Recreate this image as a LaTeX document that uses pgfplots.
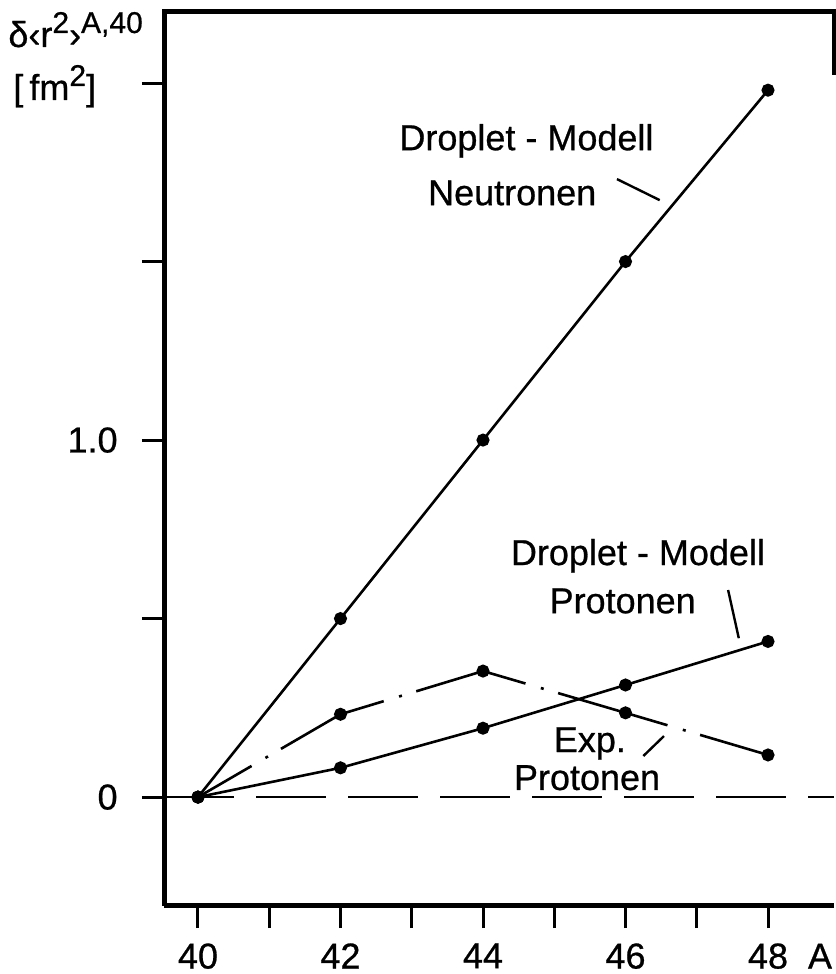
\documentclass[border=0pt]{standalone}
\usepackage{pgfplots}
\pgfplotsset{compat=1.18}
\usepackage{fontspec}
\setmainfont{Liberation Sans}[BoldFont={Liberation Sans}, BoldFeatures={FakeBold=0.7}]

\newcommand{\lab}{\fontsize{18}{27}\selectfont\bfseries}
\newcommand{\hochs}[1]{\raisebox{7pt}{\fontsize{15}{15}\selectfont #1}}

\begin{document}
\begin{tikzpicture}
\path[use as bounding box] (0,0) rectangle (417.5pt,487pt);

% axis title, set above the y axis
\node[anchor=base west, inner sep=0pt] at (4pt,463.5pt) {\lab δ‹r\hochs{2}›\hochs{A,40}};
\node[anchor=base west, inner sep=0pt] at (6.5pt,437pt) {\lab [\,fm\hochs{2}]};

\begin{axis}[
  at={(82pt,34pt)}, anchor=south west,
  scale only axis, width=335pt, height=447pt,
  xmin=39.523, xmax=48.926, ymin=-0.305, ymax=2.199,
  axis x line*=bottom, axis y line*=left,
  axis line style={-, line width=2.5pt, black},
  tick align=outside,
  major tick length=11pt, minor tick length=11pt,
  every tick/.style={line width=1.5pt, black},
  xtick={40,42,44,46,48},
  xticklabels={40,42,44,46,48\rlap{\hspace{10pt}A}},
  minor xtick={41,43,45,47},
  ytick={0,0.5,1,1.5,2},
  yticklabels={0,,1.0,,},
  ticklabel style={font=\lab, inner sep=0pt},
  xticklabel style={anchor=north, yshift=-7.5pt},
  yticklabel style={anchor=east, xshift=-12pt},
  clip=false,
]
% frame: top edge and the upper part of the right edge
\draw[line width=2.5pt, line cap=rect] (rel axis cs:0,1) -- (rel axis cs:1,1);
\draw[line width=2pt] (rel axis cs:1,1) -- (rel axis cs:1,0.93);

% zero line
\addplot[black, line width=1.3pt, dash pattern=on 35pt off 11pt] coordinates {(39.523,0) (48.926,0)};

% Droplet-Modell, Neutronen
\addplot[black, line width=1.3pt, mark=*, mark size=2.6pt] coordinates {
  (40,0) (42,0.50) (44,1.00) (46,1.50) (48,1.98)};

% Droplet-Modell, Protonen
\addplot[black, line width=1.3pt, mark=*, mark size=2.6pt] coordinates {
  (40,0) (42,0.082) (44,0.193) (46,0.314) (48,0.436)};

% Exp. Protonen
\addplot[black, line width=1.3pt, dash pattern=on 57pt off 8pt on 1.5pt off 7.5pt, dash phase=26pt,
  mark=*, mark size=2.6pt, mark options={solid}] coordinates {
  (40,0) (42,0.232) (44,0.353) (46,0.236) (48,0.118)};

% annotations
\node[anchor=base, inner sep=0pt] at (axis cs:44.61,1.812) {\lab Droplet - Modell};
\node[anchor=base, inner sep=0pt] at (axis cs:44.41,1.658) {\lab Neutronen};
\draw[line width=1.2pt] (axis cs:45.88,1.731) -- (axis cs:46.48,1.672);

\node[anchor=base, inner sep=0pt] at (axis cs:46.175,0.650) {\lab Droplet - Modell};
\node[anchor=base, inner sep=0pt] at (axis cs:45.96,0.515) {\lab Protonen};
\draw[line width=1.2pt] (axis cs:47.44,0.580) -- (axis cs:47.59,0.445);

\node[anchor=base, inner sep=0pt] at (axis cs:45.50,0.126) {\lab Exp.};
\node[anchor=base, inner sep=0pt] at (axis cs:45.46,0.020) {\lab Protonen};
\draw[line width=1.2pt] (axis cs:46.25,0.115) -- (axis cs:46.54,0.171);
\end{axis}
\end{tikzpicture}
\end{document}
